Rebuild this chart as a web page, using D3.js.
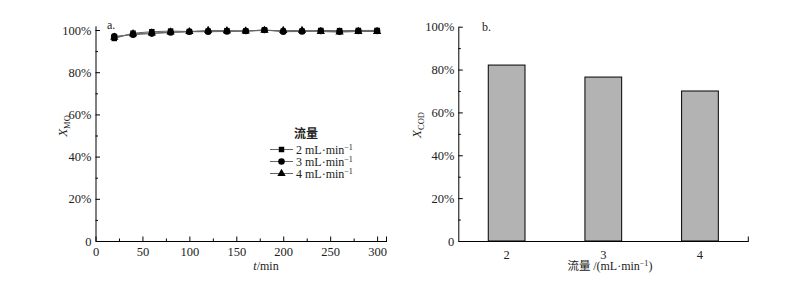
<!DOCTYPE html>
<html>
<head>
<meta charset="utf-8">
<script src="https://cdn.jsdelivr.net/npm/d3@7"></script>
<style>
  body { margin: 0; background: #fff; }
  svg { display: block; }
  .tick text { font-family: "Liberation Serif", serif; font-size: 12.5px; fill: #222; }
  .lbl { font-family: "Liberation Serif", serif; font-size: 12px; fill: #222; }
</style>
</head>
<body>
<svg id="chart" width="802" height="285"></svg>
<script>
// ---- data ----
const times = [20, 40, 60, 80, 100, 120, 140, 160, 180, 200, 220, 240, 260, 280, 300];
const flow2 = [0.960, 0.985, 0.992, 0.995, 0.993, 0.995, 0.997, 0.995, 1.000, 0.995, 0.995, 0.998, 0.997, 0.998, 0.998];
const flow3 = [0.970, 0.978, 0.983, 0.988, 0.992, 0.992, 0.993, 0.995, 1.000, 0.992, 0.993, 0.995, 0.992, 0.995, 0.995];
const flow4 = [0.965, 0.982, 0.986, 0.990, 0.992, 0.998, 0.996, 0.995, 0.998, 0.997, 0.998, 0.993, 0.990, 0.993, 0.993];
const seriesNames = ['2 mL·min', '3 mL·min', '4 mL·min'];
const flowCats = ['2', '3', '4'];
const codValues = [0.821, 0.765, 0.700];
const pctTicks = [0, 0.2, 0.4, 0.6, 0.8, 1.0];

const svg = d3.select('#chart');
const cjk = '"Noto Sans CJK SC", sans-serif';

function pct(d) { return d === 0 ? '0' : Math.round(d * 100) + '%'; }

// ============ panel a: X_MO vs time ============
const xA = d3.scaleLinear().domain([0, 310]).range([95.5, 386.5]);
const yA = d3.scaleLinear().domain([0, 1.02]).range([241, 25.8]);

const gA = svg.append('g');

// minor ticks
gA.append('g').attr('transform', 'translate(0,241)')
  .call(d3.axisBottom(xA).tickValues(d3.range(25, 310, 50)).tickSize(-2.5).tickFormat(''))
  .call(g => g.select('.domain').remove());
gA.append('g').attr('transform', 'translate(95.5,0)')
  .call(d3.axisLeft(yA).tickValues(d3.range(0.1, 1.0, 0.2)).tickSize(-2.5).tickFormat(''))
  .call(g => g.select('.domain').remove());

// main axes
gA.append('g').attr('transform', 'translate(0,241)')
  .call(d3.axisBottom(xA).tickValues(d3.range(0, 301, 50)).tickSizeInner(-4.5).tickSizeOuter(0).tickPadding(6));
gA.append('g').attr('transform', 'translate(95.5,0)')
  .call(d3.axisLeft(yA).tickValues(pctTicks).tickSizeInner(-4.5).tickSizeOuter(0).tickPadding(4).tickFormat(pct));
// closing stub at right end of x axis
gA.append('line').attr('x1', xA(310)).attr('x2', xA(310)).attr('y1', 241).attr('y2', 236.5)
  .attr('stroke', '#000');

const seriesA = [flow2, flow3, flow4];
const symbols = [d3.symbolSquare, d3.symbolCircle, d3.symbolTriangle];
const symSize = [30, 34, 30];
const line = d3.line().x((d, i) => xA(times[i])).y(d => yA(d));

seriesA.forEach((vals, k) => {
  gA.append('path').datum(vals)
    .attr('d', line).attr('fill', 'none').attr('stroke', '#666').attr('stroke-width', 1);
});
seriesA.forEach((vals, k) => {
  gA.selectAll('.m' + k).data(vals).join('path')
    .attr('transform', (d, i) => `translate(${xA(times[i])},${yA(d)})`)
    .attr('d', d3.symbol(symbols[k], symSize[k])).attr('fill', '#000');
});

gA.append('text').attr('class', 'lbl').attr('x', 107).attr('y', 29).text('a.');

// axis titles
gA.append('text').attr('class', 'lbl').attr('x', 266).attr('y', 270).attr('text-anchor', 'middle')
  .html('<tspan font-style="italic">t</tspan>/min');
gA.append('text').attr('class', 'lbl').attr('transform', 'translate(67,126) rotate(-90)')
  .attr('text-anchor', 'middle')
  .html('<tspan font-style="italic" font-size="13">X</tspan><tspan font-size="8.5" dy="3">MO</tspan>');

// legend
const leg = gA.append('g');
leg.append('text').attr('x', 306).attr('y', 138).attr('text-anchor', 'middle')
  .style('font-family', cjk).style('font-size', '12px').style('font-weight', 'bold').style('fill', '#222')
  .text('流量');
seriesNames.forEach((name, k) => {
  const y = 149.5 + k * 12;
  leg.append('line').attr('x1', 270).attr('x2', 293).attr('y1', y).attr('y2', y)
    .attr('stroke', '#666').attr('stroke-width', 1);
  leg.append('path').attr('transform', `translate(281.5,${y})`)
    .attr('d', d3.symbol(symbols[k], symSize[k])).attr('fill', '#000');
  leg.append('text').attr('class', 'lbl').attr('x', 296).attr('y', y + 4)
    .html(`${name}<tspan font-size="8" dy="-4">−1</tspan>`);
});

// ============ panel b: X_COD bars ============
const xB = d3.scaleBand().domain(flowCats).range([458.3, 748.3]).paddingInner(0.62).paddingOuter(0.31);
const yB = d3.scaleLinear().domain([0, 1]).range([241, 26.7]);

const gB = svg.append('g');
gB.append('g').attr('transform', 'translate(458.3,0)')
  .call(d3.axisLeft(yB).tickValues(d3.range(0.1, 1.0, 0.2)).tickSize(-2.5).tickFormat(''))
  .call(g => g.select('.domain').remove());

gB.selectAll('.bar').data(codValues).join('rect')
  .attr('class', 'bar')
  .attr('x', (d, i) => xB(flowCats[i]))
  .attr('y', d => yB(d))
  .attr('width', xB.bandwidth())
  .attr('height', d => yB(0) - yB(d))
  .attr('fill', '#b3b3b3').attr('stroke', '#000').attr('stroke-width', 1);

gB.append('g').attr('transform', 'translate(0,241)')
  .call(d3.axisBottom(xB).tickSize(0).tickPadding(9));
gB.append('g').attr('transform', 'translate(458.3,0)')
  .call(d3.axisLeft(yB).tickValues(pctTicks).tickSizeInner(-4.5).tickSizeOuter(0).tickPadding(4).tickFormat(pct));
gB.append('line').attr('x1', 748.3).attr('x2', 748.3).attr('y1', 241).attr('y2', 236.5)
  .attr('stroke', '#000');

gB.append('text').attr('class', 'lbl').attr('x', 482).attr('y', 31).text('b.');

gB.append('text').attr('x', 610).attr('y', 270).attr('text-anchor', 'middle')
  .style('font-family', cjk).style('font-size', '11.5px').style('fill', '#222')
  .html(`流量 <tspan font-family="Liberation Serif, serif" font-size="12">/(mL·min<tspan font-size="8" dy="-4">−1</tspan><tspan dy="4">)</tspan></tspan>`);
gB.append('text').attr('class', 'lbl').attr('transform', 'translate(421,125) rotate(-90)')
  .attr('text-anchor', 'middle')
  .html('<tspan font-style="italic" font-size="13">X</tspan><tspan font-size="8.5" dy="3">COD</tspan>');
</script>
</body>
</html>
